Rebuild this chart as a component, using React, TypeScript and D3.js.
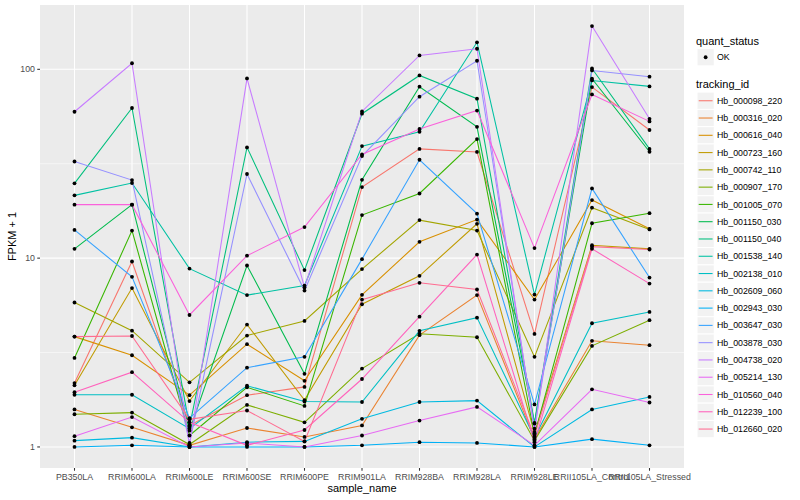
import * as d3 from "d3"

const samples = [
  "PB350LA",
  "RRIM600LA",
  "RRIM600LE",
  "RRIM600SE",
  "RRIM600PE",
  "RRIM901LA",
  "RRIM928BA",
  "RRIM928LA",
  "RRIM928LE",
  "RRII105LA_Control",
  "RRII105LA_Stressed",
]

const trackingIds = [
  "Hb_000098_220",
  "Hb_000316_020",
  "Hb_000616_040",
  "Hb_000723_160",
  "Hb_000742_110",
  "Hb_000907_170",
  "Hb_001005_070",
  "Hb_001150_030",
  "Hb_001150_040",
  "Hb_001538_140",
  "Hb_002138_010",
  "Hb_002609_060",
  "Hb_002943_030",
  "Hb_003647_030",
  "Hb_003878_030",
  "Hb_004738_020",
  "Hb_005214_130",
  "Hb_010560_040",
  "Hb_012239_100",
  "Hb_012660_020",
]

// ggplot default hue palette for 20 levels
const colors = [
  "#F8766D", "#EA8331", "#D89000", "#C09B00", "#A3A500",
  "#7CAE00", "#39B600", "#00BB4E", "#00BF7D", "#00C1A3",
  "#00BFC4", "#00BAE0", "#00B0F6", "#35A2FF", "#9590FF",
  "#C77CFF", "#E76BF3", "#FA62DB", "#FF62BC", "#FF6C91",
]

// FPKM + 1, one row per tracking_id, columns in sample order
const fpkmPlus1: number[][] = [
  [2.18, 9.6, 1.3, 1.88, 2.08, 23.8, 37.9, 36.5, 3.97, 80.5, 47.7],
  [1.58, 1.27, 1.02, 1.26, 1.13, 1.3, 3.91, 6.37, 1.1, 3.65, 3.46],
  [3.84, 3.06, 1.88, 3.5, 2.24, 6.39, 12.2, 16.0, 6.03, 20.3, 14.3],
  [2.12, 6.94, 1.75, 4.45, 1.77, 5.7, 8.06, 15.2, 1.18, 11.7, 11.2],
  [5.82, 4.13, 2.2, 3.89, 4.65, 8.75, 15.9, 14.0, 3.0, 18.5, 14.2],
  [1.49, 1.52, 1.03, 1.67, 1.35, 2.6, 3.98, 3.81, 1.08, 3.43, 4.69],
  [2.96, 14.0, 1.15, 2.07, 1.65, 16.9, 22.0, 42.7, 1.16, 15.3, 17.3],
  [11.2, 19.2, 1.22, 9.14, 2.44, 26.0, 80.9, 49.6, 1.33, 89.2, 36.6],
  [24.9, 62.4, 1.28, 38.6, 8.64, 58.2, 92.8, 69.9, 1.34, 101, 37.9],
  [21.5, 25.0, 8.8, 6.37, 7.16, 39.2, 46.7, 139, 6.41, 87.3, 81.2],
  [1.89, 1.89, 1.25, 2.11, 1.74, 1.73, 4.12, 4.84, 1.12, 4.52, 5.19],
  [1.08, 1.12, 1.0, 1.06, 1.07, 1.41, 1.73, 1.76, 1.0, 1.58, 1.84],
  [1.0, 1.02, 1.0, 1.0, 1.0, 1.02, 1.06, 1.05, 1.0, 1.1, 1.02],
  [14.1, 7.96, 1.42, 2.63, 3.0, 9.88, 33.2, 17.2, 1.68, 23.4, 7.89],
  [32.5, 25.9, 1.05, 27.9, 6.73, 34.7, 71.6, 111, 1.25, 98.6, 91.4],
  [59.6, 107.7, 1.02, 89.5, 7.0, 59.8, 118.5, 128.5, 1.2, 169.5, 54.7],
  [1.14, 1.44, 1.0, 1.05, 1.0, 1.15, 1.38, 1.63, 1.02, 2.02, 1.72],
  [19.2, 19.2, 5.0, 10.3, 14.6, 35.4, 48.3, 60.5, 11.3, 73.6, 53.0],
  [1.95, 2.49, 1.35, 1.02, 1.23, 2.29, 4.9, 10.45, 1.06, 11.2, 7.33],
  [3.84, 3.87, 1.4, 1.56, 1.07, 6.03, 7.4, 6.82, 1.14, 11.5, 11.1],
]

const yBreaks = [1, 10, 100]
const yMinorBreaks = [3.162, 31.62]

const width = 800
const height = 500
const panel = { left: 40, right: 684, top: 5, bottom: 468 }
const font = "'Liberation Sans', Arial, Helvetica, sans-serif"

export default function App() {
  const x = d3
    .scalePoint<string>()
    .domain(samples)
    .range([panel.left, panel.right])
    .padding(0.6)

  // log10 scale with ggplot's 5% expansion in transformed space
  const logs = fpkmPlus1.flat().map((v) => Math.log10(v))
  const lmin = d3.min(logs)!
  const lmax = d3.max(logs)!
  const pad = (lmax - lmin) * 0.05
  const y = d3
    .scaleLog()
    .domain([10 ** (lmin - pad), 10 ** (lmax + pad)])
    .range([panel.bottom, panel.top])

  const line = d3
    .line<number>()
    .x((_, i) => x(samples[i])!)
    .y((v) => y(v))

  const keySize = 17.28
  const keyX = 697
  const rowTop = 92.1

  return (
    <svg
      width={width}
      height={height}
      style={{ position: "absolute", left: 0, top: 0, background: "white" }}
      fontFamily={font}
    >
      {/* panel */}
      <rect
        x={panel.left}
        y={panel.top}
        width={panel.right - panel.left}
        height={panel.bottom - panel.top}
        fill="#EBEBEB"
      />
      {yMinorBreaks.map((b) => (
        <line key={"mn" + b} x1={panel.left} x2={panel.right} y1={y(b)} y2={y(b)} stroke="white" strokeWidth={0.53} />
      ))}
      {yBreaks.map((b) => (
        <line key={"mj" + b} x1={panel.left} x2={panel.right} y1={y(b)} y2={y(b)} stroke="white" strokeWidth={1.07} />
      ))}
      {samples.map((s) => (
        <line key={"vx" + s} x1={x(s)} x2={x(s)} y1={panel.top} y2={panel.bottom} stroke="white" strokeWidth={1.07} />
      ))}

      {/* lines */}
      {fpkmPlus1.map((row, i) => (
        <path key={"l" + i} d={line(row)!} fill="none" stroke={colors[i]} strokeWidth={1.07} />
      ))}
      {/* points */}
      {fpkmPlus1.map((row, i) =>
        row.map((v, j) => <circle key={"p" + i + "_" + j} cx={x(samples[j])} cy={y(v)} r={1.9} fill="black" />)
      )}

      {/* y axis */}
      {yBreaks.map((b) => (
        <g key={"yt" + b}>
          <line x1={panel.left - 2.75} x2={panel.left} y1={y(b)} y2={y(b)} stroke="#333333" strokeWidth={1.07} />
          <text x={panel.left - 5} y={y(b) + 3.1} textAnchor="end" fontSize={8.8} fill="#4D4D4D">
            {b}
          </text>
        </g>
      ))}
      <text
        transform={`translate(16,${(panel.top + panel.bottom) / 2}) rotate(-90)`}
        textAnchor="middle"
        fontSize={11}
        fill="black"
      >
        FPKM + 1
      </text>

      {/* x axis */}
      {samples.map((s) => (
        <g key={"xt" + s}>
          <line x1={x(s)} x2={x(s)} y1={panel.bottom} y2={panel.bottom + 2.75} stroke="#333333" strokeWidth={1.07} />
          <text x={x(s)} y={panel.bottom + 12} textAnchor="middle" fontSize={8.8} fill="#4D4D4D">
            {s}
          </text>
        </g>
      ))}
      <text x={(panel.left + panel.right) / 2} y={492} textAnchor="middle" fontSize={11} fill="black">
        sample_name
      </text>

      {/* legend: quant_status */}
      <text x={696} y={44.5} fontSize={11} fill="black">
        quant_status
      </text>
      <rect x={keyX} y={48.6} width={keySize} height={keySize} fill="#F2F2F2" stroke="white" />
      <circle cx={keyX + keySize / 2} cy={48.6 + keySize / 2} r={1.9} fill="black" />
      <text x={717} y={48.6 + keySize / 2 + 3.1} fontSize={8.8} fill="black">
        OK
      </text>

      {/* legend: tracking_id */}
      <text x={696} y={88} fontSize={11} fill="black">
        tracking_id
      </text>
      {trackingIds.map((id, i) => {
        const top = rowTop + i * keySize
        const cy = top + keySize / 2
        return (
          <g key={"lg" + id}>
            <rect x={keyX} y={top} width={keySize} height={keySize} fill="#F2F2F2" stroke="white" />
            <line x1={keyX + 1.7} x2={keyX + keySize - 1.7} y1={cy} y2={cy} stroke={colors[i]} strokeWidth={1.07} />
            <text x={717} y={cy + 3.1} fontSize={8.8} fill="black">
              {id}
            </text>
          </g>
        )
      })}
    </svg>
  )
}
